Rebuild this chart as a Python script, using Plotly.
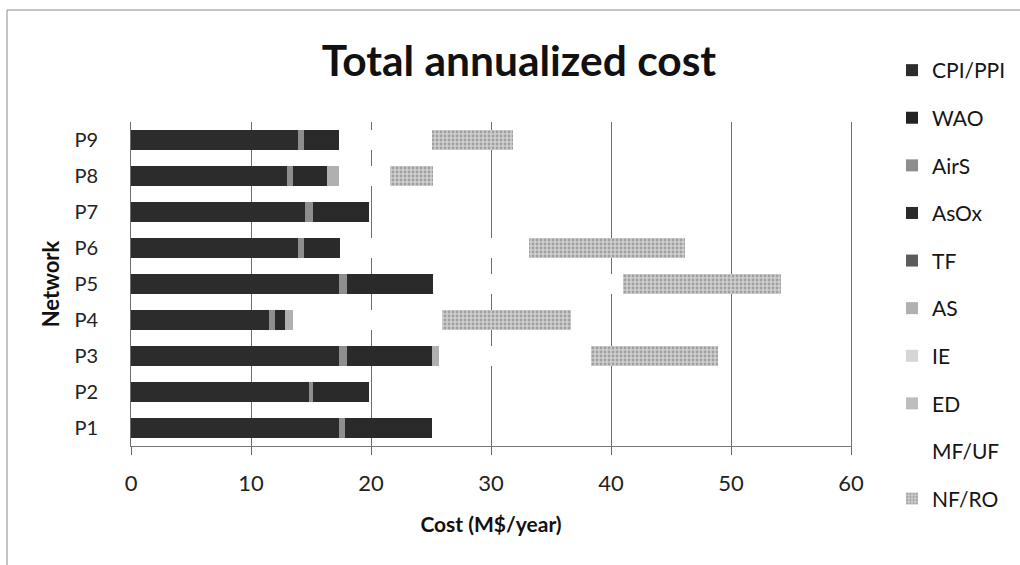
import plotly.graph_objects as go

# Networks on the category axis (P1 at the bottom)
networks = ["P1", "P2", "P3", "P4", "P5", "P6", "P7", "P8", "P9"]

# Annualized cost per treatment step, M$/year
cpi_ppi = [17.3, 14.8, 17.3, 11.5, 17.3, 13.9, 14.5, 13.0, 13.9]
wao     = [0, 0, 0, 0, 0, 0, 0, 0, 0]
airs    = [0.5, 0.4, 0.7, 0.5, 0.7, 0.5, 0.7, 0.5, 0.5]
asox    = [7.3, 4.6, 7.1, 0.8, 7.2, 3.0, 4.6, 2.8, 2.9]
tf      = [0, 0, 0, 0, 0, 0, 0, 0, 0]
as_     = [0, 0, 0.6, 0.7, 0, 0, 0, 1.0, 0]
ie      = [0, 0, 0, 0, 0, 0, 0, 0, 0]
ed      = [0, 0, 0, 0, 0, 0, 0, 0, 0]
mf_uf   = [0, 0, 12.6, 12.4, 15.8, 15.8, 0, 4.3, 7.8]
nf_ro   = [0, 0, 10.6, 10.8, 13.2, 13.0, 0, 3.6, 6.7]

series_names = ["CPI/PPI", "WAO", "AirS", "AsOx", "TF", "AS", "IE", "ED", "MF/UF", "NF/RO"]
series_values = [cpi_ppi, wao, airs, asox, tf, as_, ie, ed, mf_uf, nf_ro]
series_colors = ["#2c2c2c", "#232323", "#8e8e8e", "#2a2a2a", "#5c5c5c",
                 "#b0b0b0", "#d6d6d6", "#bdbdbd", "#ffffff", "#cbcbcb"]

FONT = "Lato, 'Open Sans', sans-serif"

fig = go.Figure()
for i, (name, vals, col) in enumerate(zip(series_names, series_values, series_colors)):
    marker = dict(color=col, line=dict(width=0))
    if name == "NF/RO":
        marker["pattern"] = dict(shape=".", bgcolor="#cfcfcf", fgcolor="#a0a0a0",
                                 size=4, solidity=0.4, fillmode="replace")
    fig.add_trace(go.Bar(
        y=networks, x=vals, name=name, orientation="h",
        marker=marker, legendgroup=f"g{i}",
    ))

W, H = 1020, 565
L, R, T, B = 131, 169, 122, 119

fig.update_layout(
    width=W, height=H,
    margin=dict(l=L, r=R, t=T, b=B),
    barmode="stack", bargap=0.44,
    paper_bgcolor="white", plot_bgcolor="white",
    font=dict(family=FONT, color="#1e1e1e"),
    title=dict(text="Total annualized cost", x=519 / W, xref="container", xanchor="center",
               y=1 - 61 / H, yref="container", yanchor="middle",
               font=dict(family=FONT, size=42.5, weight="bold", color="#111")),
    legend=dict(xref="container", yref="container", x=892 / W, xanchor="left",
                y=1 - 50 / H, yanchor="top", traceorder="grouped", tracegroupgap=17.3,
                maxheight=560,
                font=dict(family=FONT, size=21, color="#151515"), bgcolor="rgba(0,0,0,0)"),
    showlegend=True,
)

fig.update_xaxes(
    range=[0, 60], dtick=10, showgrid=True, gridcolor="#6e6e6e", gridwidth=1,
    showline=True, linecolor="#777", linewidth=1, ticks="outside", ticklen=8,
    tickcolor="#666", ticklabelstandoff=10, zeroline=False,
    tickfont=dict(family=FONT, size=22, color="#222"),
    title=dict(text="Cost (M$/year)", standoff=21,
               font=dict(family=FONT, size=21, weight="bold", color="#111")),
)
fig.update_yaxes(
    categoryorder="array", categoryarray=networks,
    showline=True, mirror=True, linecolor="#6e6e6e", linewidth=1, ticks="", showgrid=False,
    ticklabelstandoff=28,
    tickfont=dict(family=FONT, size=20, color="#222"),
    title=dict(text="Network", standoff=8,
               font=dict(family=FONT, size=22, weight="bold", color="#111")),
)

# Outer chart frame
def px_x(p):
    return (p - L) / (W - L - R)

def px_y(p):
    return (H - B - p) / (H - T - B)

fig.add_shape(type="rect", xref="paper", yref="paper",
              x0=px_x(7), x1=px_x(1030), y0=px_y(575), y1=px_y(10),
              line=dict(color="#8a8a8a", width=1), fillcolor="rgba(0,0,0,0)", layer="above")

fig.write_html("out.html")
